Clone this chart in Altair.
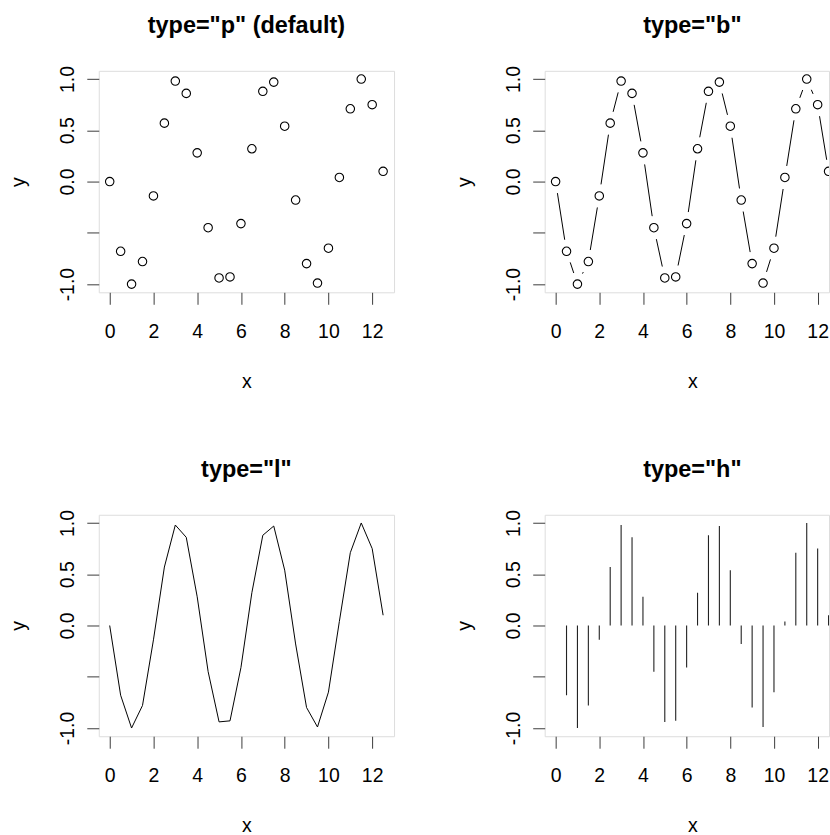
import altair as alt
import pandas as pd
import numpy as np

# data
x_vals = [0, 0.5, 1, 1.5, 2, 2.5, 3, 3.5, 4, 4.5, 5, 5.5, 6, 6.5,
          7, 7.5, 8, 8.5, 9, 9.5, 10, 10.5, 11, 11.5, 12, 12.5]
y_vals = [0.00, -0.68, -1.00, -0.78, -0.14, 0.57, 0.98, 0.86, 0.28, -0.45,
          -0.94, -0.93, -0.41, 0.32, 0.88, 0.97, 0.54, -0.18, -0.80, -0.99,
          -0.65, 0.04, 0.71, 1.00, 0.75, 0.10]
x_ticks = [0, 2, 4, 6, 8, 10, 12]
y_ticks = [-1.0, -0.5, 0.0, 0.5, 1.0]
titles = ['type="p" (default)', 'type="b"', 'type="l"', 'type="h"']

df = pd.DataFrame({"x": x_vals, "y": y_vals})

FONT = "Liberation Sans"
FS = 19.5
BOX = "#3c3c3c"
W_FULL = 296
W_RIGHT = 285
H = 222
YDOM = [-1.08, 1.08]
XMAX_FULL = 13.0
XMAX_RIGHT = 12.52

# type="b" segments with gaps around the points (R style)
sx = W_RIGHT / (XMAX_RIGHT + 0.5)
sy = H / (YDOM[1] - YDOM[0])
gap = 11.7
segs = []
for i in range(len(x_vals) - 1):
    x0, y0, x1, y1 = x_vals[i], y_vals[i], x_vals[i + 1], y_vals[i + 1]
    dist = np.hypot((x1 - x0) * sx, (y1 - y0) * sy)
    f = gap / dist
    if f < 0.5:
        segs.append({"xa": x0 + f * (x1 - x0), "ya": y0 + f * (y1 - y0),
                     "xb": x1 - f * (x1 - x0), "yb": y1 - f * (y1 - y0)})
seg_df = pd.DataFrame(segs)
h_df = df.assign(zero=0.0)


def enc(width, xmax):
    xs = alt.Scale(domain=[-0.5, xmax], nice=False, zero=False)
    ys = alt.Scale(domain=YDOM, nice=False, zero=False)
    xaxis = alt.Axis(values=x_ticks, title="x", grid=False, domain=False,
                     tickSize=12, tickColor=BOX, tickWidth=1,
                     labelFont=FONT, labelFontSize=FS, labelColor="black",
                     labelBaseline="alphabetic", labelPadding=33.5,
                     labelFlush=False, labelOverlap=False,
                     titleFont=FONT, titleFontSize=FS, titleFontWeight="normal",
                     titleColor="black", titleX=W_FULL / 2, titleY=95,
                     titleBaseline="alphabetic", titleAlign="center")
    yaxis = alt.Axis(values=y_ticks, title="y", grid=False, domain=False,
                     tickSize=12, tickColor=BOX, tickWidth=1,
                     labelFont=FONT, labelFontSize=FS, labelColor="black",
                     labelAngle=270, labelAlign="center",
                     labelBaseline="alphabetic", labelPadding=13.3,
                     labelFlush=False, labelOverlap=False,
                     labelExpr="datum.value == -0.5 ? '' : ((datum.value < 0 ? '-' : '') + format(abs(datum.value), '.1f'))",
                     titleFont=FONT, titleFontSize=FS, titleFontWeight="normal",
                     titleColor="black", titleX=-74.5, titleY=H / 2,
                     titleAngle=270, titleBaseline="alphabetic", titleAlign="center")
    return xs, ys, xaxis, yaxis


def title(t, dx):
    return alt.TitleParams(text=t, font=FONT, fontSize=23.5, fontWeight="bold",
                           color="black", baseline="alphabetic", offset=9,
                           anchor="middle", frame="group", dx=dx)


def panel(kind, t, right):
    width = W_RIGHT if right else W_FULL
    xmax = XMAX_RIGHT if right else XMAX_FULL
    xs, ys, xa, ya = enc(width, xmax)
    X = alt.X("x:Q", scale=xs, axis=xa)
    Y = alt.Y("y:Q", scale=ys, axis=ya)
    pts = alt.Chart(df).mark_point(shape="circle", filled=False, color="black",
                                   size=72, strokeWidth=1.1, opacity=1, clip=True).encode(x=X, y=Y)
    if kind == "p":
        layers = [pts]
    elif kind == "b":
        segl = alt.Chart(seg_df).mark_rule(color="black", strokeWidth=1, clip=True).encode(
            x=alt.X("xa:Q", scale=xs, axis=xa), x2="xb:Q",
            y=alt.Y("ya:Q", scale=ys, axis=ya), y2="yb:Q")
        layers = [segl, pts]
    elif kind == "l":
        line = alt.Chart(df).mark_line(color="black", strokeWidth=1, clip=True).encode(x=X, y=Y)
        layers = [line]
    else:
        rules = alt.Chart(h_df).mark_rule(color="#222222", strokeWidth=1.1, clip=True).encode(
            x=X, y=Y, y2="zero:Q")
        layers = [rules]
    dx = (W_FULL - W_RIGHT) / 2 if right else 0
    return alt.layer(*layers).properties(
        width=width, height=H, title=title(t, dx))


p1 = panel("p", titles[0], False)
p2 = panel("b", titles[1], True)
p3 = panel("l", titles[2], False)
p4 = panel("h", titles[3], True)

chart = alt.concat(p1, p2, p3, p4, columns=2,
                   spacing={"row": 223, "column": 151}, bounds="flush").properties(
    padding={"left": 8, "top": 12, "right": 0, "bottom": 0}
).configure_view(stroke=BOX, strokeWidth=1.2, fill="white").configure(background="white")

chart.save("out.html", embed_options={"renderer": "svg", "actions": False})
